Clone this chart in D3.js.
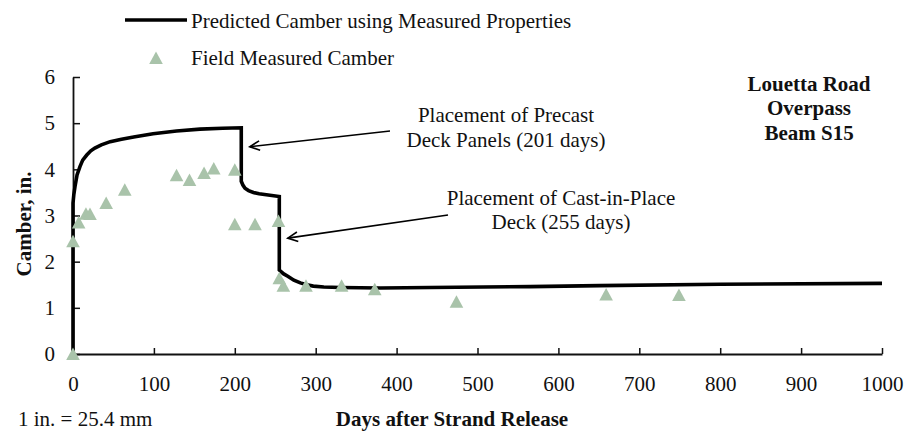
<!DOCTYPE html>
<html>
<head>
<meta charset="utf-8">
<script src="https://cdn.jsdelivr.net/npm/d3@7"></script>
<style>
  html, body { margin: 0; padding: 0; background: #fff; }
  svg text { font-family: "Liberation Serif", "Times New Roman", serif; fill: #111; }
</style>
</head>
<body>
<svg id="svg" width="913" height="432"></svg>
<script>
// predicted camber curve (days, in.)
const predDays   = [0, 0, 1, 2.5, 5, 8.6, 12, 17, 22, 27, 35, 46, 60, 75, 99, 128, 157, 185, 208,
                    208, 210, 212.6, 217, 223, 230, 239, 255,
                    255, 260, 266, 273, 281, 289, 297, 310, 330, 380, 441, 565, 651, 800, 1000];
const predCamber = [0, 3.27, 3.45, 3.63, 3.88, 4.06, 4.2, 4.31, 4.4, 4.46, 4.53, 4.6, 4.65, 4.7, 4.77, 4.83, 4.87, 4.89, 4.9,
                    3.74, 3.66, 3.59, 3.54, 3.5, 3.47, 3.45, 3.41,
                    1.82, 1.74, 1.68, 1.6, 1.54, 1.5, 1.47, 1.45, 1.44, 1.43, 1.44, 1.46, 1.48, 1.51, 1.53];

// field measurements
const fieldDays   = [0, 0, 7, 16, 21, 41, 64, 128, 144, 162, 174, 200, 200, 225, 254, 255, 260, 288, 332, 373, 474, 659, 749];
const fieldCamber = [0, 2.44, 2.85, 3.04, 3.03, 3.27, 3.56, 3.87, 3.77, 3.92, 4.02, 3.99, 2.81, 2.81, 2.88, 1.64, 1.48, 1.48, 1.48, 1.4, 1.13, 1.29, 1.28];

const xTicks = [0, 100, 200, 300, 400, 500, 600, 700, 800, 900, 1000];
const yTicks = [0, 1, 2, 3, 4, 5, 6];

const legendLabels = ["Predicted Camber using Measured Properties", "Field Measured Camber"];
const titleLines = ["Louetta Road", "Overpass", "Beam S15"];
const note1Lines = ["Placement of Precast", "Deck Panels (201 days)"];
const note2Lines = ["Placement of Cast-in-Place", "Deck (255 days)"];

const svg = d3.select("#svg");
const fs = 21;
const serif = '"Liberation Serif", "Times New Roman", serif';

const x = d3.scaleLinear().domain([0, 1000]).range([73, 882]);
const y = d3.scaleLinear().domain([0, 6]).range([354, 77]);

// axes
const gx = svg.append("g").attr("transform", "translate(0,354)")
  .call(d3.axisBottom(x).tickValues(xTicks).tickFormat(d3.format("d"))
    .tickSize(-6).tickSizeOuter(0).tickPadding(22));
const gy = svg.append("g").attr("transform", "translate(73,0)")
  .call(d3.axisLeft(y).tickValues(yTicks).tickFormat(d3.format("d"))
    .tickSize(-7).tickSizeOuter(0).tickPadding(18));

[gx, gy].forEach(g => {
  g.attr("font-family", null).attr("font-size", null);
  g.select(".domain").attr("stroke", "#111").attr("stroke-width", 1.8);
  g.selectAll(".tick line").attr("stroke", "#111").attr("stroke-width", 1.5);
  g.selectAll(".tick text").style("font-size", fs + "px").style("font-family", serif).attr("fill", "#111");
});

// predicted line
const line = d3.line()
  .x((d, i) => x(predDays[i]))
  .y((d, i) => y(predCamber[i]));

svg.append("path")
  .attr("d", line(predDays))
  .attr("fill", "none")
  .attr("stroke", "#000")
  .attr("stroke-width", 3.6)
  .attr("stroke-linejoin", "miter");

// triangles
const tri = "M0,-6.5L6.8,6L-6.8,6Z";
const green = "#a9c3aa";

svg.append("g").selectAll("path")
  .data(fieldDays)
  .join("path")
  .attr("d", tri)
  .attr("fill", green)
  .attr("transform", (d, i) => `translate(${x(d)},${y(fieldCamber[i])})`);

// legend
svg.append("line").attr("x1", 125).attr("x2", 187).attr("y1", 20).attr("y2", 20)
  .attr("stroke", "#000").attr("stroke-width", 3.6);
svg.append("text").attr("x", 191).attr("y", 28).attr("font-size", fs).text(legendLabels[0]);
svg.append("path").attr("d", tri).attr("fill", green).attr("transform", "translate(156,58)");
svg.append("text").attr("x", 191).attr("y", 65).attr("font-size", fs).text(legendLabels[1]);

// axis titles
svg.append("text")
  .attr("transform", "translate(31,224) rotate(-90)")
  .attr("text-anchor", "middle").attr("font-size", fs).attr("font-weight", "bold")
  .text("Camber, in.");
svg.append("text")
  .attr("x", 452).attr("y", 426)
  .attr("text-anchor", "middle").attr("font-size", fs).attr("font-weight", "bold")
  .text("Days after Strand Release");
svg.append("text")
  .attr("x", 18).attr("y", 426).attr("font-size", fs)
  .text("1 in. = 25.4 mm");

// title block
svg.append("g").selectAll("text")
  .data(titleLines)
  .join("text")
  .attr("x", 809).attr("y", (d, i) => 91 + i * 24.3)
  .attr("text-anchor", "middle").attr("font-size", fs).attr("font-weight", "bold")
  .text(d => d);

// annotations
function note(lines, cx, y0, gap) {
  svg.append("g").selectAll("text")
    .data(lines)
    .join("text")
    .attr("x", cx).attr("y", (d, i) => y0 + i * gap)
    .attr("text-anchor", "middle").attr("font-size", fs)
    .text(d => d);
}
note(note1Lines, 506, 122, 25);
note(note2Lines, 561, 205, 23.5);

function arrow(x1, y1, x2, y2) {
  const a = Math.atan2(y2 - y1, x2 - x1);
  const L = 11, w = 0.45;
  svg.append("line").attr("x1", x1).attr("y1", y1).attr("x2", x2).attr("y2", y2)
    .attr("stroke", "#000").attr("stroke-width", 1.6);
  svg.append("path")
    .attr("d", `M${x2 - L * Math.cos(a - w)},${y2 - L * Math.sin(a - w)}L${x2},${y2}L${x2 - L * Math.cos(a + w)},${y2 - L * Math.sin(a + w)}`)
    .attr("fill", "none").attr("stroke", "#000").attr("stroke-width", 1.6);
}
// tips placed through the scales (day, camber)
arrow(390, 131, x(218.5), y(4.49));
arrow(448, 215, x(265.5), y(2.51));
</script>
</body>
</html>
